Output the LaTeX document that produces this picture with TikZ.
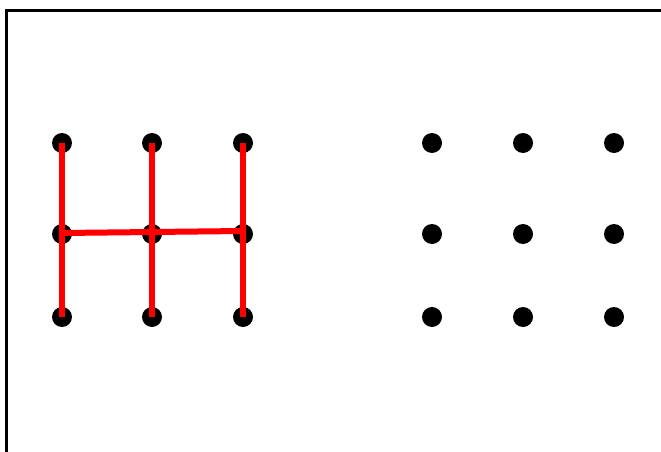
\documentclass[tikz,border=0pt]{standalone}
\usepackage{tikz}
\usetikzlibrary{positioning,calc}
\tikzset{
  gridpt/.style={circle, fill=black, inner sep=0pt, minimum size=20pt},
  frameline/.style={draw=black, line width=3pt},
  figstroke/.style={draw=red, line width=6pt},
}

\begin{document}
\begin{tikzpicture}[x=1pt, y=-1pt]
  \useasboundingbox (0,0) rectangle (661,452);
  \draw[frameline] (6.5,460) -- (6.5,10.5) -- (670,10.5);
  % left grid and right grid of points
  \foreach \r/\yy in {1/143, 2/234, 3/317} {
    \foreach \c/\xx in {1/62, 2/152, 3/243}
      \node[gridpt] (l\r\c) at (\xx,\yy) {};
    \foreach \c/\xx in {1/432, 2/523, 3/614}
      \node[gridpt] (r\r\c) at (\xx,\yy) {};
  }
  % the H drawn in red
  \foreach \c in {1,2,3}
    \draw[figstroke] (l1\c.center) -- (l3\c.center);
  \draw[figstroke] ([yshift=1pt]l21.center) -- ([yshift=3pt]l23.center);
\end{tikzpicture}
\end{document}
